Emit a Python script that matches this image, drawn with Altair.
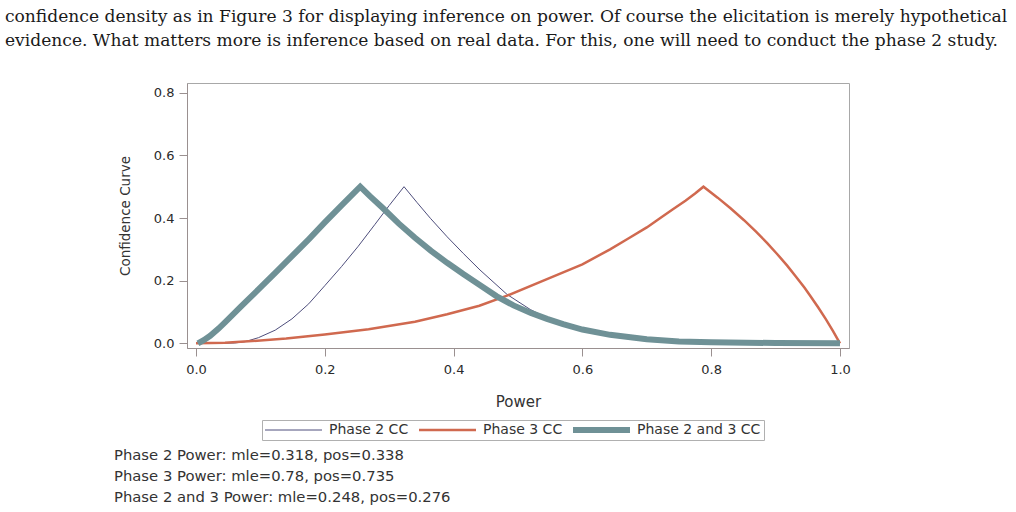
import altair as alt
import pandas as pd

header_lines = [
    "confidence density as in Figure 3 for displaying inference on power. Of course the elicitation is merely hypothetical",
    "evidence. What matters more is inference based on real data. For this, one will need to conduct the phase 2 study.",
]
footnote_lines = [
    "Phase 2 Power: mle=0.318, pos=0.338",
    "Phase 3 Power: mle=0.78, pos=0.735",
    "Phase 2 and 3 Power: mle=0.248, pos=0.276",
]

series_names = ["Phase 2 CC", "Phase 3 CC", "Phase 2 and 3 CC"]
series_colors = ["#4e4e7c", "#d0694f", "#6f9196"]
series_widths = [1, 2.5, 6]

x_ticks = [0.0, 0.2, 0.4, 0.6, 0.8, 1.0]
y_ticks = [0.0, 0.2, 0.4, 0.6, 0.8]

p2_x = [0.0, 0.04, 0.06, 0.076, 0.097, 0.123, 0.149, 0.175, 0.2, 0.226, 0.252, 0.278, 0.3, 0.323,
        0.343, 0.364, 0.39, 0.415, 0.441, 0.483, 0.519, 0.555, 0.6, 0.65, 0.7, 0.75, 0.8, 0.9, 1.0]
p2_y = [0.0, 0.0, 0.001, 0.005, 0.018, 0.042, 0.078, 0.126, 0.184, 0.245, 0.31, 0.38, 0.44, 0.5,
        0.45, 0.399, 0.34, 0.287, 0.234, 0.156, 0.108, 0.07, 0.044, 0.024, 0.011, 0.005, 0.002, 0.0, 0.0]

p3_x = [0.0, 0.045, 0.087, 0.14, 0.2, 0.268, 0.34, 0.39, 0.44, 0.483, 0.545, 0.6, 0.643, 0.67, 0.7,
        0.721, 0.74, 0.76, 0.775, 0.788, 0.81, 0.83, 0.851, 0.87, 0.887, 0.902, 0.918, 0.932, 0.945,
        0.954, 0.966, 0.978, 0.989, 1.0]
p3_y = [0.0, 0.002, 0.007, 0.015, 0.028, 0.045, 0.069, 0.093, 0.12, 0.152, 0.205, 0.252, 0.3, 0.333, 0.37,
        0.4, 0.427, 0.455, 0.478, 0.5, 0.465, 0.431, 0.393, 0.356, 0.32, 0.286, 0.248, 0.212, 0.177,
        0.151, 0.115, 0.077, 0.04, 0.0]

p23_x = [0.003, 0.012, 0.022, 0.035, 0.045, 0.07, 0.097, 0.123, 0.149, 0.175, 0.2, 0.226, 0.255,
         0.27, 0.29, 0.315, 0.34, 0.365, 0.39, 0.415, 0.44, 0.467, 0.493, 0.52, 0.545, 0.57, 0.6,
         0.643, 0.7, 0.75, 0.8, 0.9, 1.0]
p23_y = [0.0, 0.01, 0.024, 0.047, 0.067, 0.118, 0.172, 0.225, 0.278, 0.332, 0.386, 0.44, 0.5,
         0.47, 0.432, 0.382, 0.337, 0.295, 0.257, 0.221, 0.187, 0.15, 0.121, 0.097, 0.078, 0.061, 0.044,
         0.027, 0.013, 0.006, 0.003, 0.001, 0.0]

rows = []
for name, xs, ys in zip(series_names, [p2_x, p3_x, p23_x], [p2_y, p3_y, p23_y]):
    for i, (a, b) in enumerate(zip(xs, ys)):
        rows.append({"series": name, "power": a, "cc": b, "idx": i})
df = pd.DataFrame(rows)

PLOT_W, PLOT_H = 662, 265
LEFT, TOP = 187, 83

legend = alt.Legend(
    orient="none", legendX=75, legendY=337, direction="horizontal",
    symbolType="M-14.25,0H14.25", symbolSize=16, symbolOffset=21.5,
    labelFontSize=14, labelOffset=28.5, columnPadding=10, padding=3, clipHeight=14,
    strokeColor="#b0b0b0", labelColor="#333333", labelFont="DejaVu Sans",
)

lines = alt.Chart(df).mark_line(strokeJoin="miter").encode(
    x=alt.X("power:Q", scale=alt.Scale(domain=[-0.014, 1.014], nice=False, zero=False),
            axis=alt.Axis(values=x_ticks, format=".1f", title="Power", grid=False,
                          tickSize=8, labelPadding=7, labelFontSize=13, titleFontSize=15,
                          titleFontWeight="normal", titleX=PLOT_W / 2, titleY=53,
                          titleBaseline="middle", titleAlign="center")),
    y=alt.Y("cc:Q", scale=alt.Scale(domain=[-0.015, 0.831], nice=False, zero=False),
            axis=alt.Axis(values=y_ticks, format=".1f", title="Confidence Curve", grid=False,
                          tickSize=8, labelPadding=5, labelFontSize=13, titleFontSize=13.5,
                          titleFontWeight="normal", titleX=-62, titleY=PLOT_H / 2,
                          titleAngle=270, titleBaseline="middle", titleAlign="center")),
    color=alt.Color("series:N", title=None,
                    scale=alt.Scale(domain=series_names, range=series_colors),
                    legend=legend),
    strokeWidth=alt.StrokeWidth("series:N", title=None,
                                scale=alt.Scale(type="ordinal", domain=series_names, range=series_widths),
                                legend=legend),
    order="idx:Q",
)

header = alt.Chart(pd.DataFrame({"t": ["\n".join(header_lines)]})).mark_text(
    align="left", baseline="alphabetic", lineBreak="\n", lineHeight=23.5,
    font="DejaVu Serif", fontSize=17.1, color="#1a1a1a",
).encode(text="t:N", x=alt.value(5 - LEFT), y=alt.value(22 - TOP))

footer = alt.Chart(pd.DataFrame({"t": ["\n".join(footnote_lines)]})).mark_text(
    align="left", baseline="alphabetic", lineBreak="\n", lineHeight=21,
    font="DejaVu Sans", fontSize=14.8, color="#333333",
).encode(text="t:N", x=alt.value(114 - LEFT), y=alt.value(459.5 - TOP))

chart = alt.layer(lines, header, footer).properties(
    width=PLOT_W, height=PLOT_H,
    autosize=alt.AutoSizeParams(type="none"),
    padding={"left": LEFT, "top": TOP, "right": 1016 - LEFT - PLOT_W, "bottom": 512 - TOP - PLOT_H},
).configure(
    font="DejaVu Sans",
).configure_view(
    stroke="#a8a8a8", strokeWidth=1,
).configure_axis(
    domainColor="#9a9090", tickColor="#9a9090", labelColor="#2b2b2b", titleColor="#333333",
    labelFont="DejaVu Sans", titleFont="DejaVu Sans",
)

chart.save("out.html", embed_options={"renderer": "svg", "actions": False})
